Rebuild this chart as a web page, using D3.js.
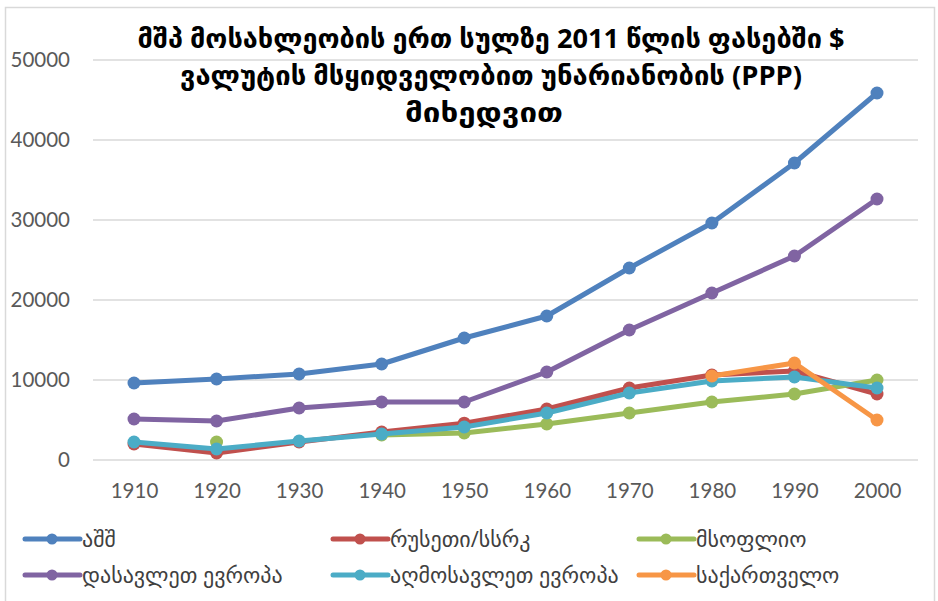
<!DOCTYPE html>
<html>
<head>
<meta charset="utf-8">
<script src="https://cdn.jsdelivr.net/npm/d3@7"></script>
<style>
  body { margin: 0; background: #fff; }
  text { font-family: "Open Sans", "DejaVu Sans", sans-serif; }
</style>
</head>
<body>
<div id="container"></div>
<script>
let width = 938;
let height = 601;

// data
let years = [1910, 1920, 1930, 1940, 1950, 1960, 1970, 1980, 1990, 2000];
let usa = [9625, 10125, 10750, 12000, 15250, 18000, 24000, 29625, 37125, 45875];
let russia = [2000, 875, 2250, 3500, 4600, 6375, 9000, 10625, 11125, 8250];
let world = [null, 2250, null, 3125, 3375, 4500, 5875, 7250, 8250, 10000];
let westEurope = [5125, 4875, 6500, 7250, 7250, 11000, 16250, 20875, 25500, 32625];
let eastEurope = [2250, 1375, 2375, 3250, 4125, 5875, 8375, 9875, 10375, 9000];
let georgia = [null, null, null, null, null, null, null, 10500, 12125, 5000];
let yTicks = [0, 10000, 20000, 30000, 40000, 50000];

let titleLines = [
  "მშპ მოსახლეობის ერთ სულზე 2011 წლის ფასებში $",
  "ვალუტის მსყიდველობით უნარიანობის (PPP)",
  "მიხედვით"
];
let titleWidths = [707, 622, 158];

let series = [
  { name: "აშშ", values: usa, color: "#4F81BD" },
  { name: "რუსეთი/სსრკ", values: russia, color: "#C0504D" },
  { name: "მსოფლიო", values: world, color: "#9BBB59" },
  { name: "დასავლეთ ევროპა", values: westEurope, color: "#8064A2" },
  { name: "აღმოსავლეთ ევროპა", values: eastEurope, color: "#4BACC6" },
  { name: "საქართველო", values: georgia, color: "#F79646" }
];

let svg = d3.select("#container")
  .append("svg")
  .attr("width", width)
  .attr("height", height);

// chart frame
svg.append("rect")
  .attr("x", 5.5).attr("y", 7.5)
  .attr("width", 929).attr("height", 620)
  .attr("fill", "none")
  .attr("stroke", "#d9d9d9")
  .attr("stroke-width", 1.5);

let x = d3.scalePoint()
  .domain(years)
  .range([134, 877]);

let y = d3.scaleLinear()
  .domain([0, 50000])
  .range([460, 60]);

// gridlines
svg.append("g")
  .selectAll("line")
  .data(yTicks)
  .enter().append("line")
  .attr("x1", 93).attr("x2", 918)
  .attr("y1", d => y(d)).attr("y2", d => y(d))
  .attr("stroke", "#d9d9d9")
  .attr("stroke-width", 1.5);

// y labels
let yAxis = d3.axisLeft(y).tickValues(yTicks).tickSize(0).tickPadding(0).tickFormat(d3.format("d"));
let gy = svg.append("g").attr("transform", "translate(70,0)").call(yAxis);
gy.select(".domain").remove();
gy.selectAll("text")
  .style("font-size", "20.5px")
  .style("font-family", "Lato, 'Open Sans', sans-serif")
  .attr("fill", "#595959");

// x labels
let xAxis = d3.axisBottom(x).tickSize(0).tickPadding(0);
let gx = svg.append("g").attr("transform", "translate(0,498)").call(xAxis);
gx.select(".domain").remove();
gx.selectAll("text")
  .attr("y", 0)
  .attr("dy", 0)
  .style("font-size", "20.5px")
  .style("font-family", "Lato, 'Open Sans', sans-serif")
  .attr("fill", "#595959");

// title
svg.append("g")
  .selectAll("text")
  .data(titleLines)
  .enter().append("text")
  .attr("x", (d, i) => i == 2 ? 484 : 491)
  .attr("y", (d, i) => 48 + i * 37)
  .attr("text-anchor", "middle")
  .attr("textLength", (d, i) => titleWidths[i])
  .attr("lengthAdjust", "spacingAndGlyphs")
  .style("font-size", "27px")
  .style("font-weight", "bold")
  .attr("fill", "#000")
  .text(d => d);

let line = d3.line()
  .defined(d => d[1] != null)
  .x(d => x(d[0]))
  .y(d => y(d[1]));

series.forEach(function (s) {
  let pts = years.map((yr, i) => [yr, s.values[i]]);
  svg.append("path")
    .datum(pts)
    .attr("d", line)
    .attr("fill", "none")
    .attr("stroke", s.color)
    .attr("stroke-width", 5)
    .attr("stroke-linejoin", "round");
  svg.append("g")
    .selectAll("circle")
    .data(pts.filter(d => d[1] != null))
    .enter().append("circle")
    .attr("cx", d => x(d[0]))
    .attr("cy", d => y(d[1]))
    .attr("r", 6.5)
    .attr("fill", s.color);
});

// legend
let legendX = [25, 333, 639];
let legendY = [539, 575];
let legend = svg.append("g")
  .selectAll("g")
  .data(series)
  .enter().append("g")
  .attr("transform", (d, i) => `translate(${legendX[i % 3]},${legendY[Math.floor(i / 3)]})`);
legend.append("line")
  .attr("x1", 0).attr("x2", 55)
  .attr("stroke", d => d.color)
  .attr("stroke-width", 5)
  .attr("stroke-linecap", "round");
legend.append("circle")
  .attr("cx", 27).attr("r", 5.5)
  .attr("fill", d => d.color);
legend.append("text")
  .attr("x", 57)
  .attr("y", 8)
  .style("font-size", "22px")
  .attr("fill", "#404040")
  .text(d => d.name);
</script>
</body>
</html>
